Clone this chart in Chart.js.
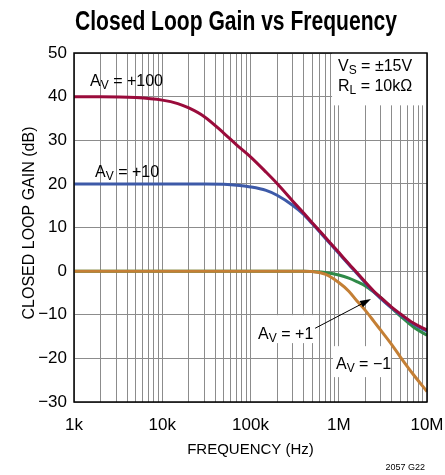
<!DOCTYPE html>
<html>
<head>
<meta charset="utf-8">
<title>Closed Loop Gain vs Frequency</title>
<script src="https://cdn.jsdelivr.net/npm/chart.js"></script>
<style>
  html, body { margin: 0; padding: 0; background: #fff; }
  canvas { display: block; }
</style>
</head>
<body>
<canvas id="gainChart" width="445" height="475"></canvas>
<script>
// frequency points (Hz) shared by all curves
const freqHz = [1e3, 2e3, 5e3, 1e4, 1.5e4, 2e4, 3e4, 5e4, 7e4, 1e5, 1.5e5, 2e5, 3e5, 4e5, 5e5,
                7e5, 1e6, 1.3e6, 1.6e6, 2e6, 2.5e6, 3e6, 4e6, 5e6, 7e6, 1e7];

// gain in dB
const gainAv100 = [40, 40, 39.8, 39.2, 38.4, 37.4, 35.4, 31.6, 28.9, 26.2, 22.7, 20.1, 16.1, 13.3, 11.1,
                   7.8, 4.3, 1.7, -0.3, -2.5, -4.6, -6.1, -8.3, -9.8, -11.9, -13.5];
const gainAv10 = [20, 20, 20, 20, 20, 20, 20, 19.9, 19.7, 19.3, 18.5, 17.4, 15.1, 13.0, 10.9,
                  7.6, 4.1, 1.5, -0.5, -2.7, -4.8, -6.3, -8.5, -10.0, -12.1, -13.8];
const gainAv1 = [0, 0, 0, 0, 0, 0, 0, 0, 0, 0, 0, 0, 0, 0, -0.1,
                 -0.3, -0.9, -1.6, -2.4, -3.4, -4.8, -6.1, -8.5, -10.3, -12.8, -14.7];
const gainAvM1 = [0, 0, 0, 0, 0, 0, 0, 0, 0, 0, 0, 0, 0, 0, -0.1,
                  -0.7, -2.6, -4.6, -6.8, -9.0, -11.5, -13.6, -16.9, -19.7, -23.7, -27.6];

// axes
const xDecades = [1e3, 1e4, 1e5, 1e6];
const xMantissas = [1, 2, 3, 4, 5, 6, 7, 8, 9];
const xLabelValues = [1e3, 1e4, 1e5, 1e6, 1e7];
const xLabelText = ['1k', '10k', '100k', '1M', '10M'];
const yMin = -30, yMax = 50, yStep = 10;

const FONT = '"Liberation Sans", Arial, sans-serif';

function toPoints(gains) {
  return freqHz.map((f, i) => ({ x: f, y: gains[i] }));
}

function line(label, gains, color) {
  return {
    label: label,
    data: toPoints(gains),
    borderColor: color,
    borderWidth: 3,
    pointRadius: 0,
    fill: false,
    cubicInterpolationMode: 'monotone'
  };
}

// "A" + subscript + rest, left aligned at (x, y) baseline
function subText(ctx, x, y, main, sub, rest, size) {
  ctx.textAlign = 'left';
  ctx.textBaseline = 'alphabetic';
  ctx.font = size + 'px ' + FONT;
  ctx.fillText(main, x, y);
  x += ctx.measureText(main).width;
  ctx.font = Math.round(size * 0.78) + 'px ' + FONT;
  ctx.fillText(sub, x, y + size * 0.19);
  x += ctx.measureText(sub).width;
  ctx.font = size + 'px ' + FONT;
  ctx.fillText(rest, x, y);
}

// condensed text: squeeze to a given width
function squeezeText(ctx, text, cx, y, width) {
  const w = ctx.measureText(text).width;
  ctx.save();
  ctx.translate(cx, y);
  ctx.scale(Math.min(1, width / w), 1);
  ctx.textAlign = 'center';
  ctx.fillText(text, 0, 0);
  ctx.restore();
}

const decor = {
  id: 'decor',
  beforeDatasetsDraw(chart) {
    const { ctx, scales: { x, y } } = chart;
    const boxes = [
      [8.4e5, 1e7, 50, 38],          // Vs / RL
      [1.12e5, 5.8e5, -10.1, -16.5], // Av = +1
      [8.6e5, 3.9e6, -17.2, -24.3]   // Av = -1
    ];
    ctx.save();
    ctx.fillStyle = '#fff';
    boxes.forEach(b => {
      const x0 = x.getPixelForValue(b[0]), x1 = x.getPixelForValue(b[1]);
      const y0 = y.getPixelForValue(b[2]), y1 = y.getPixelForValue(b[3]);
      ctx.fillRect(x0, y0, x1 - x0, y1 - y0);
    });
    ctx.restore();
  },
  afterDatasetsDraw(chart) {
    const { ctx, chartArea: a, scales: { x, y } } = chart;
    ctx.save();
    ctx.strokeStyle = '#000';
    ctx.lineWidth = 1.5;
    ctx.strokeRect(a.left, a.top, a.right - a.left, a.bottom - a.top);

    ctx.fillStyle = '#000';
    subText(ctx, x.getPixelForValue(1.52e3), y.getPixelForValue(42.4), 'A', 'V', ' = +100', 16);
    subText(ctx, x.getPixelForValue(1.73e3), y.getPixelForValue(21.5), 'A', 'V', ' = +10', 16);
    subText(ctx, x.getPixelForValue(9.8e5), y.getPixelForValue(45.8), 'V', 'S', ' = \u00b115V', 16);
    subText(ctx, x.getPixelForValue(9.8e5), y.getPixelForValue(41.3), 'R', 'L', ' = 10k\u03a9', 16);
    subText(ctx, x.getPixelForValue(1.22e5), y.getPixelForValue(-15.6), 'A', 'V', ' = +1', 16);
    subText(ctx, x.getPixelForValue(9.3e5), y.getPixelForValue(-22.5), 'A', 'V', ' = \u22121', 16);

    // arrow to the Av = +1 curve
    const tx = x.getPixelForValue(5.4e5), ty = y.getPixelForValue(-13.1);
    const hx = x.getPixelForValue(2.32e6), hy = y.getPixelForValue(-6.4);
    const ang = Math.atan2(hy - ty, hx - tx);
    ctx.strokeStyle = '#000';
    ctx.lineWidth = 1;
    ctx.beginPath();
    ctx.moveTo(tx, ty);
    ctx.lineTo(hx - 8 * Math.cos(ang), hy - 8 * Math.sin(ang));
    ctx.stroke();
    ctx.beginPath();
    ctx.moveTo(hx, hy);
    ctx.lineTo(hx - 11 * Math.cos(ang) + 3.5 * Math.sin(ang), hy - 11 * Math.sin(ang) - 3.5 * Math.cos(ang));
    ctx.lineTo(hx - 11 * Math.cos(ang) - 3.5 * Math.sin(ang), hy - 11 * Math.sin(ang) + 3.5 * Math.cos(ang));
    ctx.closePath();
    ctx.fill();
    ctx.restore();
  },
  afterDraw(chart) {
    const { ctx, chartArea: a } = chart;
    ctx.save();
    ctx.fillStyle = '#000';
    ctx.textAlign = 'center';
    ctx.textBaseline = 'alphabetic';
    ctx.font = 'bold 28px ' + FONT;
    squeezeText(ctx, 'Closed Loop Gain vs Frequency', 236, 30, 322);

    ctx.font = '15px ' + FONT;
    ctx.fillText('FREQUENCY (Hz)', (a.left + a.right) / 2, 454);

    ctx.save();
    ctx.translate(34, 223);
    ctx.rotate(-Math.PI / 2);
    ctx.font = '16px ' + FONT;
    ctx.fillText('CLOSED LOOP GAIN (dB)', 0, 0);
    ctx.restore();

    ctx.textAlign = 'right';
    ctx.font = '9px ' + FONT;
    ctx.fillText('2057 G22', 425, 470);
    ctx.restore();
  }
};

// dataset 0 is drawn on top
new Chart(document.getElementById('gainChart'), {
  type: 'line',
  data: {
    datasets: [
      line('AV = +100', gainAv100, '#9a0b3b'),
      line('AV = +10', gainAv10, '#3d5aa8'),
      line('AV = -1', gainAvM1, '#c47f35'),
      line('AV = +1', gainAv1, '#2f8a48')
    ]
  },
  options: {
    responsive: false,
    animation: false,
    layout: { padding: { left: 0, top: 53, right: 18, bottom: 0 } },
    plugins: {
      legend: { display: false },
      tooltip: { enabled: false }
    },
    scales: {
      x: {
        type: 'logarithmic',
        min: 1e3,
        max: 1e7,
        afterBuildTicks(scale) {
          const vals = [];
          xDecades.forEach(d => xMantissas.forEach(m => vals.push(d * m)));
          vals.push(1e7);
          scale.ticks = vals.map(v => ({ value: v }));
        },
        afterFit(scale) {
          scale.height = 73;
          scale.paddingLeft = 0;
          scale.paddingRight = 0;
        },
        grid: { color: '#8c8c8c', lineWidth: 1, drawTicks: false },
        border: { display: false },
        ticks: {
          autoSkip: false,
          maxRotation: 0,
          padding: 13,
          color: '#000',
          font: { family: FONT, size: 17 },
          callback(value) {
            const i = xLabelValues.indexOf(value);
            return i >= 0 ? xLabelText[i] : '';
          }
        }
      },
      y: {
        min: yMin,
        max: yMax,
        afterFit(scale) { scale.width = 74; },
        grid: { color: '#8c8c8c', lineWidth: 1, drawTicks: false },
        border: { display: false },
        ticks: {
          stepSize: yStep,
          padding: 7,
          color: '#000',
          font: { family: FONT, size: 17 },
          callback(value) {
            return value < 0 ? '\u2212' + Math.abs(value) : String(value);
          }
        }
      }
    }
  },
  plugins: [decor]
});
</script>
</body>
</html>
